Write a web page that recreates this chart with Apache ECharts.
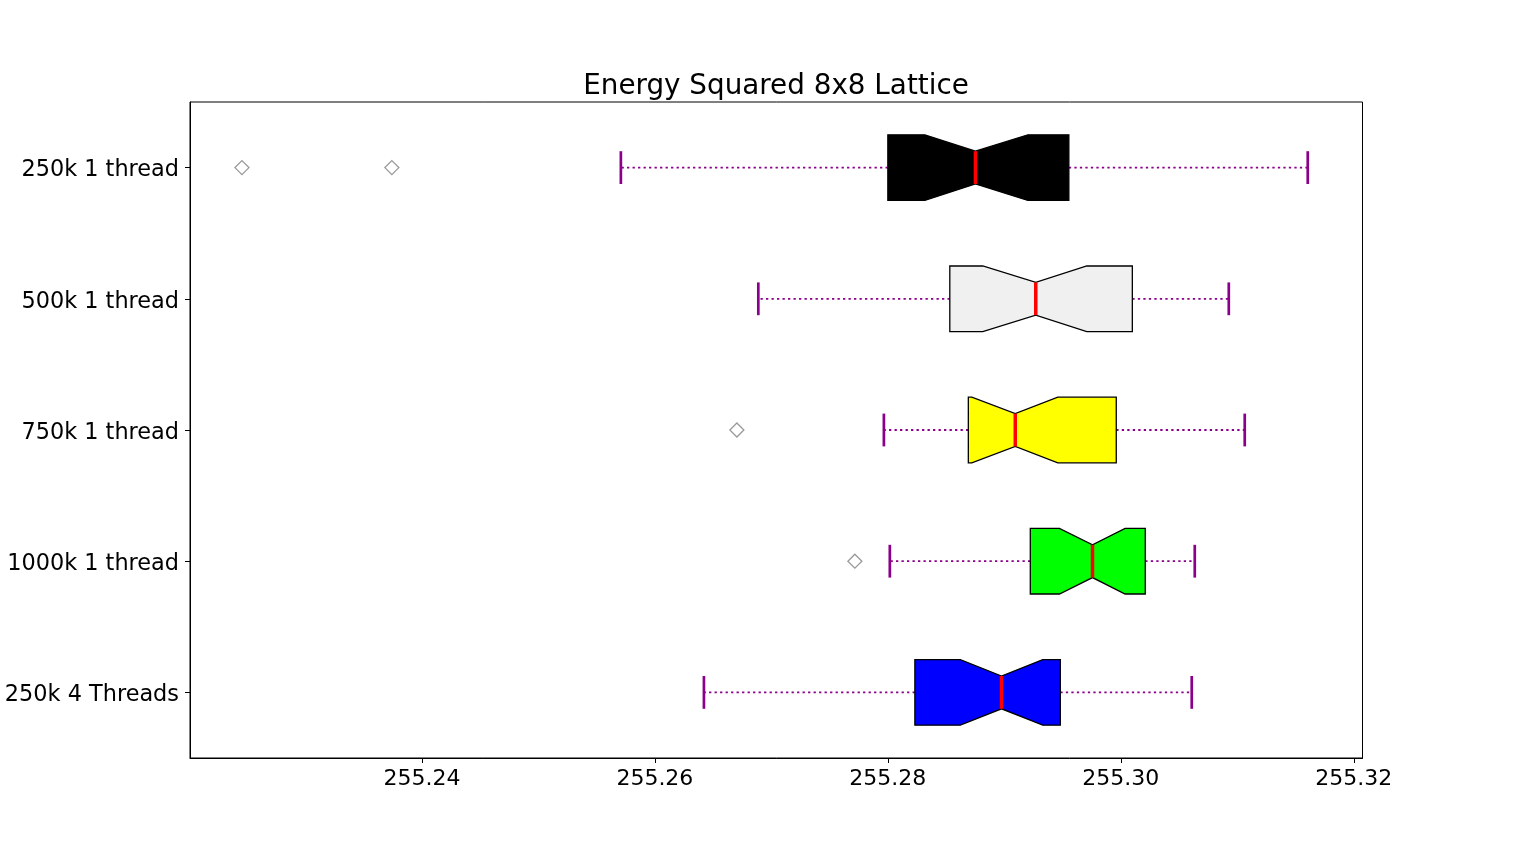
<!DOCTYPE html>
<html>
<head>
<meta charset="utf-8">
<script src="https://cdn.jsdelivr.net/npm/echarts@6/dist/echarts.min.js"></script>
<style>
  html, body { margin: 0; padding: 0; background: #fff; }
  #main { width: 1513px; height: 852px; }
</style>
</head>
<body>
<div id="main"></div>
<script>
// Box statistics, one entry per row (top to bottom)
const categories = ["250k 1 thread", "500k 1 thread", "750k 1 thread", "1000k 1 thread", "250k 4 Threads"];
const whiskerLow = [255.25708, 255.26888, 255.27966, 255.28017, 255.26421];
const q1 = [255.28000, 255.28532, 255.28691, 255.29223, 255.28232];
const notchLow = [255.28318, 255.28815, 255.28721, 255.29473, 255.28622];
const medians = [255.28752, 255.29270, 255.29094, 255.29757, 255.28976];
const notchHigh = [255.29202, 255.29708, 255.29459, 255.30037, 255.29330];
const q3 = [255.29554, 255.30099, 255.29961, 255.30210, 255.29481];
const whiskerHigh = [255.31605, 255.30927, 255.31064, 255.30635, 255.30609];
// outliers as [value, row index]
const outliers = [[255.22455, 0], [255.23742, 0], [255.26704, 2], [255.27717, 3]];
const tickValues = [255.24, 255.26, 255.28, 255.30, 255.32];

const boxColors = ["#000000", "#f0f0f0", "#ffff00", "#00ff00", "#0000ff"];
const whiskerColor = "#8b008b";
const font = "DejaVu Sans";

const boxData = categories.map((c, i) => [
  i, whiskerLow[i], q1[i], notchLow[i], medians[i], notchHigh[i], q3[i], whiskerHigh[i]
]);

// Draws one notched box like matplotlib's bxp (horizontal)
function renderBox(params, api) {
  const idx = api.value(0);
  const xs = [1, 2, 3, 4, 5, 6, 7].map((k) => api.coord([api.value(k), idx])[0]);
  const [wlo, bq1, clo, med, chi, bq3, whi] = xs;
  const y = api.coord([api.value(4), idx])[1];
  const band = api.size([0, 1])[1];
  const h = band * 0.25;
  const n = band * 0.125;
  const c = band * 0.125;

  const dotted = { stroke: whiskerColor, lineWidth: 1.8, lineDash: [2.3, 3.2] };
  const capStyle = { stroke: whiskerColor, lineWidth: 2.7 };

  return {
    type: "group",
    children: [
      { type: "line", shape: { x1: bq1, y1: y, x2: wlo, y2: y }, style: dotted },
      { type: "line", shape: { x1: bq3, y1: y, x2: whi, y2: y }, style: dotted },
      { type: "line", shape: { x1: wlo, y1: y - c, x2: wlo, y2: y + c }, style: capStyle },
      { type: "line", shape: { x1: whi, y1: y - c, x2: whi, y2: y + c }, style: capStyle },
      {
        type: "polygon",
        shape: {
          points: [
            [bq1, y - h], [clo, y - h], [med, y - n], [chi, y - h], [bq3, y - h],
            [bq3, y + h], [chi, y + h], [med, y + n], [clo, y + h], [bq1, y + h],
          ],
        },
        style: { fill: boxColors[idx], stroke: "#000", lineWidth: 1.3 },
      },
      { type: "line", shape: { x1: med, y1: y - n, x2: med, y2: y + n }, style: { stroke: "#ff0000", lineWidth: 3.5 } },
    ],
  };
}

const chart = echarts.init(document.getElementById("main"));
chart.setOption({
  animation: false,
  graphic: [
    {
      type: "text",
      x: 776,
      y: 101,
      style: {
        text: "Energy Squared 8x8 Lattice",
        font: `27.8px "${font}"`,
        fill: "#000",
        textAlign: "center",
        textVerticalAlign: "bottom",
      },
    },
  ],
  grid: {
    left: 190,
    right: 150.5,
    top: 102,
    bottom: 94,
    show: true,
    borderColor: "#000",
    borderWidth: 1,
  },
  xAxis: {
    type: "value",
    min: 255.22009,
    max: 255.32075,
    splitLine: { show: false },
    axisLine: { show: true, lineStyle: { color: "#000", width: 1 } },
    axisTick: { show: true, customValues: tickValues, length: 5, lineStyle: { color: "#000" } },
    axisLabel: {
      customValues: tickValues,
      formatter: (v) => v.toFixed(2),
      color: "#000",
      fontFamily: font,
      fontSize: 22,
      margin: 10,
    },
  },
  yAxis: {
    type: "category",
    data: categories,
    inverse: true,
    axisLine: { show: true, lineStyle: { color: "#000", width: 1 } },
    axisTick: { show: true, alignWithLabel: true, length: 5, lineStyle: { color: "#000" } },
    axisLabel: {
      margin: 11,
      formatter: (v) => `{a|${v}}`,
      rich: {
        a: { color: "#000", fontFamily: font, fontSize: 22.4, padding: [6, 0, 0, 0] },
      },
    },
    splitLine: { show: false },
  },
  series: [
    {
      type: "custom",
      renderItem: renderBox,
      data: boxData,
      encode: { x: [1, 2, 3, 4, 5, 6, 7], y: 0 },
      silent: true,
    },
    {
      type: "scatter",
      data: outliers,
      symbol: "diamond",
      symbolSize: 14,
      itemStyle: { color: "#fff", borderColor: "#7f7f7f", borderWidth: 1.3 },
      silent: true,
    },
  ],
});
</script>
</body>
</html>
